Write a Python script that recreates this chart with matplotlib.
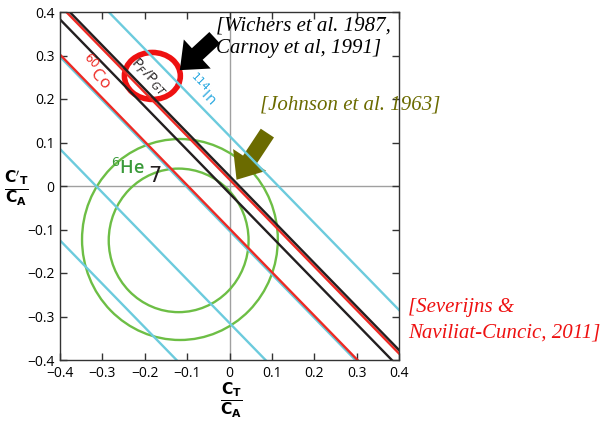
import numpy as np
import matplotlib
matplotlib.use("Agg")
import matplotlib.pyplot as plt
from matplotlib.patches import Ellipse, Circle, FancyArrowPatch

# ---- data: constraint bands y = c - x ----
cyan_c  = [0.115, -0.103, -0.315, -0.525]   # 114In bands
red_c   = [0.015, -0.098]                   # 60Co / PF-PGT
black_c = [0.023, -0.017]                   # PF/PGT bands
# 6He circles (centre x, centre y, radius)
he_x = [-0.117, -0.120]
he_y = [-0.123, -0.125]
he_r = [0.231, 0.165]

tick_vals = [-0.4, -0.3, -0.2, -0.1, 0, 0.1, 0.2, 0.3, 0.4]
tick_txt  = ["\u22120.4", "\u22120.3", "\u22120.2", "\u22120.1", "0", "0.1", "0.2", "0.3", "0.4"]

CYAN, RED, BLACK, GREEN = "#6ccbdd", "#ee2a24", "#231f20", "#6dbe45"
SANS = "Open Sans"

fig = plt.figure(figsize=(6.07, 4.24), dpi=100)
ax = fig.add_axes([60/607, 1-360/424, 339/607, 348/424])
ax.set_xlim(-0.4, 0.4)
ax.set_ylim(-0.4, 0.4)

ax.axhline(0, color="#a0a0a0", lw=1, zorder=0)
ax.axvline(0, color="#a0a0a0", lw=1, zorder=0)

xs = np.array([-0.5, 0.5])
for c in cyan_c:
    ax.plot(xs, c - xs, color=CYAN, lw=1.7)
for c in red_c:
    ax.plot(xs, c - xs, color=RED, lw=1.7)
for c in black_c:
    ax.plot(xs, c - xs, color=BLACK, lw=1.7)
for cx, cy, r in zip(he_x, he_y, he_r):
    ax.add_patch(Circle((cx, cy), r, fill=False, ec=GREEN, lw=1.7))

# labels on the bands
ax.text(-0.317, 0.262, r"$^{60}$Co", color=RED, fontsize=12.5, rotation=-46,
        ha="center", va="center", family=SANS)
ax.text(-0.190, 0.250, r"P$_F$/P$_{GT}$", color=BLACK, fontsize=10.5, rotation=-46,
        ha="center", va="center", family=SANS)
ax.text(-0.066, 0.221, r"$^{114}$In", color="#29a8e0", fontsize=11, rotation=-46,
        ha="center", va="center", family=SANS)
ax.text(-0.240, 0.041, r"$^{6}$He", color="#3a9a3a", fontsize=13, fontweight="semibold",
        ha="center", va="center", family=SANS)
ax.text(-0.176, 0.022, "7", color=BLACK, fontsize=15, family="DejaVu Sans",
        ha="center", va="center")

# red highlight ring and arrows
ax.add_patch(Ellipse((-0.182, 0.253), 0.132, 0.108, fill=False, ec="#ee1111", lw=4))
ax.add_patch(FancyArrowPatch((-0.030, 0.345), (-0.122, 0.262),
             arrowstyle="simple,head_length=0.9,head_width=1.5,tail_width=0.6",
             mutation_scale=19, color="black", lw=0))
ax.add_patch(FancyArrowPatch((0.093, 0.127), (0.013, 0.009),
             arrowstyle="simple,head_length=0.9,head_width=1.5,tail_width=0.6",
             mutation_scale=19, color="#6b6b00", lw=0))

ax.set_xticks(tick_vals)
ax.set_xticklabels(tick_txt)
ax.set_yticks(tick_vals)
ax.set_yticklabels(tick_txt)
ax.tick_params(direction="in", length=5, width=1, color="#333333",
               top=True, right=True, labelsize=10, pad=4)
for lab in ax.get_xticklabels() + ax.get_yticklabels():
    lab.set_family(SANS)
for s in ax.spines.values():
    s.set_color("#333333")
    s.set_linewidth(1)

# axis labels as fractions
fig.text(16/607, 1-188/424, r"$\frac{\mathbf{C}'_{\mathbf{T}}}{\mathbf{C}_{\mathbf{A}}}$",
         fontsize=16, ha="center", va="center")
fig.text(231/607, 1-400/424, r"$\frac{\mathbf{C}_{\mathbf{T}}}{\mathbf{C}_{\mathbf{A}}}$",
         fontsize=16, ha="center", va="center")

# references
serif = "Liberation Serif"
fig.text(216/607, 1-16/424, "[Wichers et al. 1987,\nCarnoy et al, 1991]",
         fontsize=15, style="italic", family=serif, color="black",
         va="top", ha="left", linespacing=1.3)
fig.text(260/607, 1-105/424, "[Johnson et al. 1963]",
         fontsize=15, style="italic", family=serif, color="#6b6b00", va="center", ha="left")
fig.text(408/607, 1-298/424, "[Severijns &\nNaviliat-Cuncic, 2011]",
         fontsize=15, style="italic", family=serif, color="#ee1111",
         va="top", ha="left", linespacing=1.45)

fig.savefig("out.png", dpi=100)
